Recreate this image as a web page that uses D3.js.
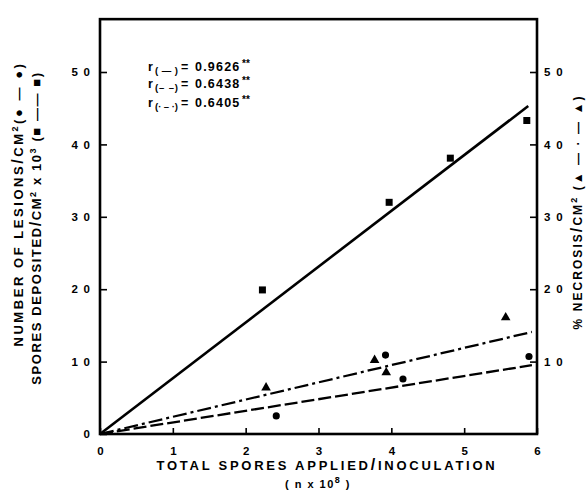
<!DOCTYPE html>
<html>
<head>
<meta charset="utf-8">
<script src="https://cdn.jsdelivr.net/npm/d3@7"></script>
<style>
  body { margin: 0; background: #fff; }
  svg { display: block; font-family: "Liberation Sans", Arial, sans-serif; font-weight: bold; }
</style>
</head>
<body>
<script>
// tick values
const xTicks      = [0, 1, 2, 3, 4, 5, 6]
const yTicksLeft  = [0, 10, 20, 30, 40, 50]
const yTicksRight = [10, 20, 30, 40, 50]

// spores deposited / cm2 x10^3 (squares)
const sporesX   = [2.23, 3.97, 4.81, 5.86]
const sporesY   = [19.9, 32.0, 38.1, 43.3]
// number of lesions / cm2 (circles)
const lesionsX  = [2.42, 3.92, 4.16, 5.89]
const lesionsY  = [2.5, 10.9, 7.6, 10.7]
// % necrosis / cm2 (triangles)
const necrosisX = [2.28, 3.77, 3.93, 5.57]
const necrosisY = [6.4, 10.2, 8.5, 16.1]

// regression lines, [x, y] end points
const fitSpores   = [[0, 0], [5.88, 45.3]]
const fitLesions  = [[0, 0], [5.93, 9.5]]
const fitNecrosis = [[0, 0], [5.93, 14.1]]

// correlation legend
const rKeys   = ['(—)', '(– –)', '(· – ·)']
const rValues = ['0.9626', '0.6438', '0.6405']

const W = 587, H = 491,
      yTop = 57.3

let svg = d3.select('body').append('svg')
      .attr('width', W)
      .attr('height', H),
    x = d3.scaleLinear().domain([0, 6]).range([100, 537]),
    y = d3.scaleLinear().domain([0, 50]).range([434, 72])

// frame
svg.append('rect')
  .attr('x', x(0))
  .attr('y', y(yTop))
  .attr('width', x(6) - x(0))
  .attr('height', y(0) - y(yTop))
  .attr('fill', 'none')
  .attr('stroke', '#000')
  .attr('stroke-width', 2.6)

function _style(g) {
  g.select('.domain').remove()
  g.selectAll('.tick line').attr('stroke', '#000').attr('stroke-width', 1.6)
  g.selectAll('.tick text').attr('fill', '#000').attr('font-size', 11.5)
    .attr('font-family', '"Liberation Sans", Arial, sans-serif').attr('font-weight', 'bold')
}

const spaced = d => String(d).split('').join('\u2002')

svg.append('g')
  .attr('transform', 'translate(0,' + y(0) + ')')
  .call(d3.axisBottom(x).tickValues(xTicks).tickSize(-6).tickPadding(13).tickFormat(d => d))
  .call(_style)

svg.append('g')
  .attr('transform', 'translate(' + x(0) + ',0)')
  .call(d3.axisLeft(y).tickValues(yTicksLeft).tickSize(-7).tickPadding(10).tickFormat(spaced))
  .call(_style)

svg.append('g')
  .attr('transform', 'translate(' + x(6) + ',0)')
  .call(d3.axisRight(y).tickValues(yTicksRight).tickSize(-7).tickPadding(7).tickFormat(spaced))
  .call(_style)

// fit lines
let line = d3.line().x(d => x(d[0])).y(d => y(d[1]))

svg.append('path').attr('d', line(fitSpores))
  .attr('fill', 'none').attr('stroke', '#000').attr('stroke-width', 2.6)
svg.append('path').attr('d', line(fitLesions))
  .attr('fill', 'none').attr('stroke', '#000').attr('stroke-width', 2.3)
  .attr('stroke-dasharray', '13,4')
svg.append('path').attr('d', line(fitNecrosis))
  .attr('fill', 'none').attr('stroke', '#000').attr('stroke-width', 2.3)
  .attr('stroke-dasharray', '14,4,3,4')

// points
function _points(xs, ys, type, size) {
  svg.append('g').selectAll('path')
    .data(xs.map((v, i) => [v, ys[i]]))
    .join('path')
      .attr('transform', d => 'translate(' + x(d[0]) + ',' + y(d[1]) + ')')
      .attr('d', d3.symbol(type, size))
      .attr('fill', '#000')
}
_points(sporesX, sporesY, d3.symbolSquare, 49)
_points(lesionsX, lesionsY, d3.symbolCircle, 40)
_points(necrosisX, necrosisY, d3.symbolTriangle, 40)

// r legend
rValues.forEach((v, i) => {
  let b = [70.5, 88, 107][i],
      t = svg.append('text').attr('font-size', 12.5).attr('y', b)
  t.append('tspan').attr('x', 148).text('r')
  t.append('tspan').attr('x', 155).attr('y', b + 3).attr('font-size', 9.5)
    .attr('textLength', 23).attr('lengthAdjust', 'spacing').text(rKeys[i])
  t.append('tspan').attr('x', 181).attr('y', b).text('=')
  t.append('tspan').attr('x', 195).attr('y', b).attr('letter-spacing', 1.2).text(v)
  t.append('tspan').attr('x', 242).attr('y', b - 4).attr('font-size', 10).text('**')
})

// titles
function _fit(t, target) {
  let n = t.node(),
      w = n.getComputedTextLength(),
      c = n.textContent.length
  t.attr('letter-spacing', (target - w) / c)
}

function _title(tx, ty, rot, parts, target, fs) {
  let t = svg.append('text')
    .attr('transform', 'translate(' + tx + ',' + ty + ')' + (rot ? ' rotate(' + rot + ')' : ''))
    .attr('text-anchor', 'middle')
    .attr('font-size', fs || 13)
  parts.forEach(p => {
    let s = t.append('tspan').text(p[0])
    if (p[1] == 'sup') s.attr('baseline-shift', 'super').attr('font-size', 9)
    if (p[1] == 'big') s.attr('font-size', 16)
  })
  _fit(t, target)
  return t
}

_title(23, 204, -90, [['NUMBER OF LESIONS'], ['/', 'big'], ['CM'], ['2', 'sup'], ['(● — ●)']], 285)
_title(41, 228, -90, [['SPORES  DEPOSITED'], ['/', 'big'], ['CM'], ['2', 'sup'], [' x 10'], ['3', 'sup'], [' (■ —— ■)']], 315)
_title(582, 212, -90, [['% NECROSIS'], ['/', 'big'], ['CM'], ['2', 'sup'], [' (▲ — · — ▲)']], 235, 12)
_title(327, 470, 0, [['TOTAL SPORES APPLIED'], ['/', 'big'], ['INOCULATION']], 341)
_title(318, 488, 0, [['( n x 10'], ['8', 'sup'], [' )']], 66, 11)
</script>
</body>
</html>
